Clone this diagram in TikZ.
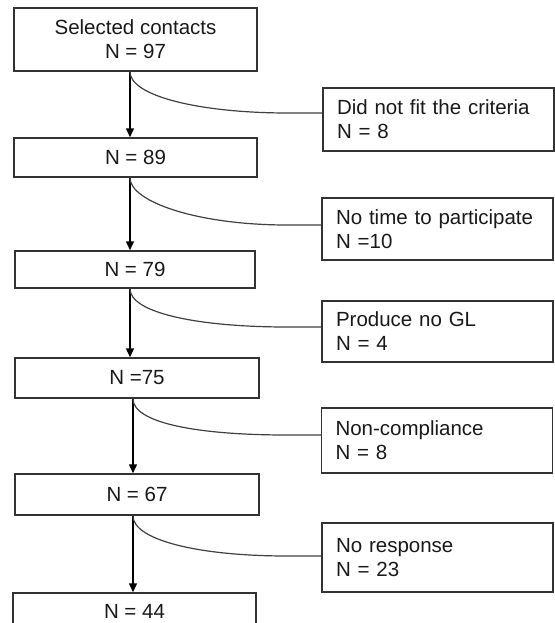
\documentclass[tikz,border=0pt]{standalone}
\usepackage{fontspec}
\setmainfont{Liberation Sans}
\usetikzlibrary{arrows.meta}

\begin{document}
\begin{tikzpicture}[x=1pt, y=1pt,
		every node/.style={font=\fontsize{20.5}{24}\selectfont, text=black!90},
		mainbox/.style={draw=black!80, line width=1.5pt, minimum height=#1, inner sep=0pt, align=center},
		sidebox/.style={draw=black!80, line width=1.5pt, minimum height=#1, inner xsep=14pt, inner ysep=0pt, align=left, text width=203pt},
		flow/.style={line width=1.5pt, -{Triangle[length=9pt, width=8pt]}},
		drop/.style={line width=1.2pt, black!75}]
		\useasboundingbox (0,0) rectangle (554,-623);

		% Main column
		\node[mainbox=63pt, minimum width=243pt] (b1) at (135.5,-39.5) {Selected contacts\\N = 97};
		\node[mainbox=39pt, minimum width=243pt] (b2) at (135.5,-157.5) {N = 89};
		\node[mainbox=37pt, minimum width=240pt] (b3) at (135,-269.5) {N = 79};
		\node[mainbox=40pt, minimum width=244pt] (b4) at (137,-378) {N =75};
		\node[mainbox=41pt, minimum width=244pt] (b5) at (137,-494.5) {N = 67};
		\node[mainbox=37pt, minimum width=243pt] (b6) at (134.5,-611.5) {N = 44};

		% Exclusions
		\node[sidebox=63pt] (r1) at (438.5,-119.5) {Did not fit the criteria\\N = 8};
		\node[sidebox=62pt] (r2) at (437.5,-229) {No time to participate\\N =10};
		\node[sidebox=61pt] (r3) at (437.5,-331.5) {Produce no GL\\N = 4};
		\node[sidebox=65pt] (r4) at (437,-440.5) {Non-compliance\\N = 8};
		\node[sidebox=69pt] (r5) at (437.5,-557.5) {No response\\N = 23};

		% Arrows and branches
		\foreach \a/\b/\r/\dx/\dy in {b1/b2/r1/-5.5/6.5, b2/b3/r2/-5.5/4, b3/b4/r3/-5/4.5, b4/b5/r4/-4/5.5, b5/b6/r5/-4/1.5} {
			\draw[flow] ([xshift=\dx pt]\a.south) -- ([xshift=\dx pt]\a.south |- \b.north);
			\draw[drop] ([xshift=\dx pt]\a.south) .. controls +(0,-24) and +(-90,0) .. ([xshift=-34pt, yshift=\dy pt]\r.west) -- ([yshift=\dy pt]\r.west);
		}
	\end{tikzpicture}
\end{document}
